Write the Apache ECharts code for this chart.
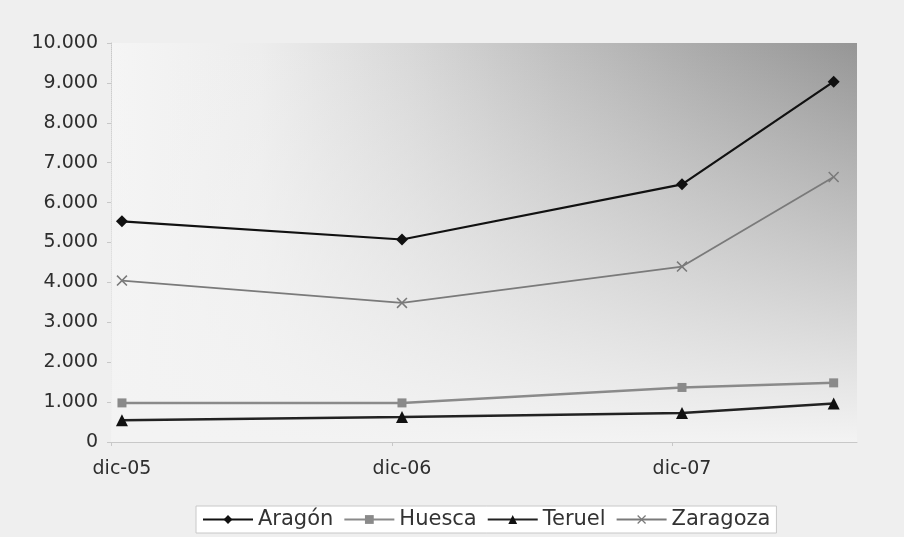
<!DOCTYPE html>
<html>
<head>
<meta charset="utf-8">
<script src="https://cdn.jsdelivr.net/npm/echarts@6/dist/echarts.min.js"></script>
<style>
html,body{margin:0;padding:0;background:#efefef;}
#chart{width:904px;height:537px;}
</style>
</head>
<body>
<div id="chart"></div>
<script>
// months since dic-05
const months = [0, 12, 24, 30.5];
const xLabelValues = [0, 12, 24];
const xLabelTexts = ['dic-05', 'dic-06', 'dic-07'];
const xTickValues = [-0.47, 11.57, 23.57];
const seriesNames = ['Aragón', 'Huesca', 'Teruel', 'Zaragoza'];
const aragon = [5530, 5075, 6457, 9030];
const huesca = [980, 980, 1367, 1482];
const teruel = [545, 628, 729, 965];
const zaragoza = [4045, 3485, 4397, 6641];

const X_MIN = -0.47, X_MAX = 31.5, Y_MIN = 0, Y_MAX = 10000;
const pair = arr => months.map((m, i) => [m, arr[i]]);
const fmt = v => String(v).replace(/\B(?=(\d{3})+(?!\d))/g, '.');
const FONT = 'DejaVu Sans';
const xShape = 'path://M0,1 L1,0 L5,4 L9,0 L10,1 L6,5 L10,9 L9,10 L5,6 L1,10 L0,9 L4,5 Z';

const chart = echarts.init(document.getElementById('chart'), null, {renderer: 'canvas'});
chart.setOption({
  backgroundColor: '#efefef',
  animation: false,
  textStyle: {fontFamily: FONT},
  grid: {
    left: 111, right: 47, top: 43, bottom: 95,
    show: true,
    borderWidth: 0,
    backgroundColor: {
      type: 'linear', x: 0, y: 0, x2: 1, y2: 0,
      colorStops: [
        {offset: 0, color: '#f5f5f5'},
        {offset: 0.2, color: '#ededed'},
        {offset: 0.4, color: '#d8d8d8'},
        {offset: 0.6, color: '#bfbfbf'},
        {offset: 0.8, color: '#a9a9a9'},
        {offset: 1, color: '#969696'}
      ]
    }
  },
  legend: {
    bottom: 4,
    left: 196,
    data: seriesNames,
    backgroundColor: '#ffffff',
    borderColor: '#c8c8c8',
    borderWidth: 1,
    padding: [3, 6],
    itemGap: 10,
    itemWidth: 50,
    itemHeight: 11,
    textStyle: {fontFamily: FONT, fontSize: 21, color: '#333'}
  },
  xAxis: {
    type: 'value',
    min: X_MIN,
    max: X_MAX,
    splitLine: {show: false},
    axisLine: {show: true, onZero: false, lineStyle: {color: '#c8c8c8', width: 1}},
    axisTick: {show: true, customValues: xTickValues, length: 4, lineStyle: {color: '#c8c8c8'}},
    axisLabel: {
      customValues: xLabelValues,
      margin: 18,
      fontFamily: FONT, fontSize: 19, color: '#2e2e2e',
      formatter: v => xLabelTexts[xLabelValues.indexOf(v)]
    }
  },
  yAxis: {
    type: 'value',
    min: Y_MIN, max: Y_MAX, interval: 1000,
    splitLine: {show: false},
    axisLine: {show: true, onZero: false, lineStyle: {color: '#c8c8c8', type: 'dotted', width: 1}},
    axisTick: {show: true, length: 4, lineStyle: {color: '#c8c8c8'}},
    axisLabel: {
      margin: 13,
      fontFamily: FONT, fontSize: 19, color: '#2e2e2e',
      formatter: v => fmt(v)
    }
  },
  series: [
    {
      name: 'Aragón', type: 'line', data: pair(aragon),
      symbol: 'diamond', symbolSize: 12, z: 5,
      lineStyle: {color: '#111', width: 2.2},
      itemStyle: {color: '#111'},
      markArea: {
        silent: true,
        z: 1,
        itemStyle: {
          color: {
            type: 'linear', x: 0, y: 0, x2: 0, y2: 1,
            colorStops: [
              {offset: 0, color: 'rgba(243,243,243,0)'},
              {offset: 0.5, color: 'rgba(243,243,243,0.5)'},
              {offset: 1, color: 'rgba(243,243,243,1)'}
            ]
          }
        },
        data: [[{coord: [X_MIN, Y_MAX]}, {coord: [X_MAX, Y_MIN]}]]
      }
    },
    {
      name: 'Huesca', type: 'line', data: pair(huesca),
      symbol: 'rect', symbolSize: 9, z: 5,
      lineStyle: {color: '#8a8a8a', width: 2.5},
      itemStyle: {color: '#8a8a8a'}
    },
    {
      name: 'Teruel', type: 'line', data: pair(teruel),
      symbol: 'triangle', symbolSize: 12, z: 5,
      lineStyle: {color: '#222', width: 2.5},
      itemStyle: {color: '#111'}
    },
    {
      name: 'Zaragoza', type: 'line', data: pair(zaragoza),
      symbol: xShape, symbolSize: 11, z: 5,
      lineStyle: {color: '#7a7a7a', width: 1.8},
      itemStyle: {color: '#7a7a7a'}
    }
  ]
});
</script>
</body>
</html>
